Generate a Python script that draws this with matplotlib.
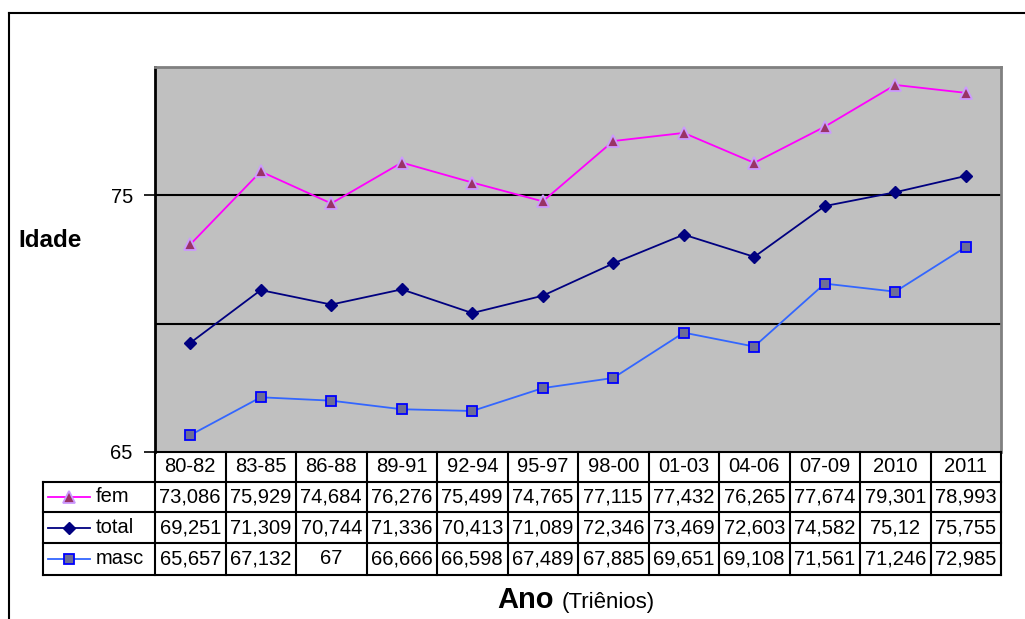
"""Life expectancy by sex, line chart with an Excel-style data table underneath."""

import matplotlib.pyplot as plt
from matplotlib.lines import Line2D
from matplotlib.transforms import blended_transform_factory

plt.rcParams["font.family"] = ["Liberation Sans", "DejaVu Sans"]

periods = ["80-82", "83-85", "86-88", "89-91", "92-94", "95-97",
           "98-00", "01-03", "04-06", "07-09", "2010", "2011"]
fem = [73.086, 75.929, 74.684, 76.276, 75.499, 74.765,
       77.115, 77.432, 76.265, 77.674, 79.301, 78.993]
total = [69.251, 71.309, 70.744, 71.336, 70.413, 71.089,
         72.346, 73.469, 72.603, 74.582, 75.12, 75.755]
masc = [65.657, 67.132, 67, 66.666, 66.598, 67.489,
        67.885, 69.651, 69.108, 71.561, 71.246, 72.985]
series_names = ["fem", "total", "masc"]

W, H = 1025, 619
fig = plt.figure(figsize=(W / 100, H / 100), dpi=100)


def fy(py):
    # pixel row (from top) -> figure fraction
    return 1 - py / H


# plot area
x0, x1, y_top, y_bot = 155, 1001, 67, 452
ax = fig.add_axes([x0 / W, fy(y_bot), (x1 - x0) / W, (y_bot - y_top) / H])
ax.set_facecolor("#C0C0C0")

xs = list(range(len(periods)))
styles = {
    "fem": dict(color="#FF00FF", marker="^", markersize=8.5,
                markerfacecolor="#993366", markeredgecolor="#CC99FF", markeredgewidth=1.3),
    "total": dict(color="#000080", marker="D", markersize=6,
                  markerfacecolor="#000080", markeredgecolor="#000080"),
    "masc": dict(color="#3366FF", marker="s", markersize=6.5,
                 markerfacecolor="#6E6E96", markeredgecolor="#0000FF", markeredgewidth=1.3),
}
data = {"fem": fem, "total": total, "masc": masc}
for name in series_names:
    ax.plot(xs, data[name], linewidth=1.3, zorder=3, **styles[name])

ax.set_xlim(-0.5, len(periods) - 0.5)
ax.set_ylim(65, 80)
for g in (70, 75):
    ax.axhline(g, color="black", linewidth=1.5, zorder=1)
ax.set_yticks([65, 75])
ax.set_yticklabels(["65", "75"], fontsize=14.5)
ax.tick_params(axis="y", length=8, width=1.2, pad=8, direction="out")
ax.set_xticks([])
ax.spines["left"].set_linewidth(2)
ax.spines["left"].set_color("black")
for s in ("top", "right"):
    ax.spines[s].set_color("#808080")
    ax.spines[s].set_linewidth(2)
ax.spines["bottom"].set_visible(False)

# data table below the plot area
tr = blended_transform_factory(ax.transData, fig.transFigure)
rows_px = [452, 482, 512, 543, 575]
legend_left = -0.5 - (x0 - 43) / ((x1 - x0) / len(periods))
right = len(periods) - 0.5
lw = 1.5


def hline(xa, xb, py):
    fig.add_artist(Line2D([xa, xb], [fy(py), fy(py)], transform=tr,
                          color="black", linewidth=lw, clip_on=False))


def vline(xv, pa, pb):
    fig.add_artist(Line2D([xv, xv], [fy(pa), fy(pb)], transform=tr,
                          color="black", linewidth=lw, clip_on=False))


hline(-0.5, right, rows_px[0])
for py in rows_px[1:]:
    hline(legend_left, right, py)
for i in range(len(periods) + 1):
    vline(i - 0.5, rows_px[0], rows_px[-1])
vline(legend_left, rows_px[1], rows_px[-1])

fs = 14.5
hy = (rows_px[0] + rows_px[1]) / 2
for i, p in enumerate(periods):
    fig.text(i, fy(hy), p, transform=tr, ha="center", va="center", fontsize=fs)

for r, name in enumerate(series_names):
    cy = (rows_px[r + 1] + rows_px[r + 2]) / 2
    for i, v in enumerate(data[name]):
        label = f"{v:g}".replace(".", ",")
        fig.text(i, fy(cy), label, transform=tr, ha="center", va="center", fontsize=fs)
    # legend key in the first column
    st = styles[name]
    fig.add_artist(Line2D([48 / W, 90 / W], [fy(cy), fy(cy)], transform=fig.transFigure,
                          color=st["color"], linewidth=1.3))
    key = {k: v for k, v in st.items() if k != "color"}
    fig.add_artist(Line2D([69 / W], [fy(cy)], transform=fig.transFigure,
                          linestyle="none", color=st["color"], **key))
    fig.text(96 / W, fy(cy), name, ha="left", va="center", fontsize=fs)

# axis titles
fig.text(18 / W, fy(247), "Idade", ha="left", va="baseline", fontsize=17.5, fontweight="bold")
fig.text(554 / W, fy(608), "Ano", ha="right", va="baseline", fontsize=21, fontweight="bold")
fig.text(562 / W, fy(608), "(Triênios)", ha="left", va="baseline", fontsize=16)

# chart frame
fig.add_artist(Line2D([9 / W, 1], [fy(12.5), fy(12.5)], transform=fig.transFigure,
                      color="black", linewidth=1.5))
fig.add_artist(Line2D([9 / W, 9 / W], [fy(12.5), 0], transform=fig.transFigure,
                      color="black", linewidth=1.5))

fig.savefig("out.png", dpi=100)
